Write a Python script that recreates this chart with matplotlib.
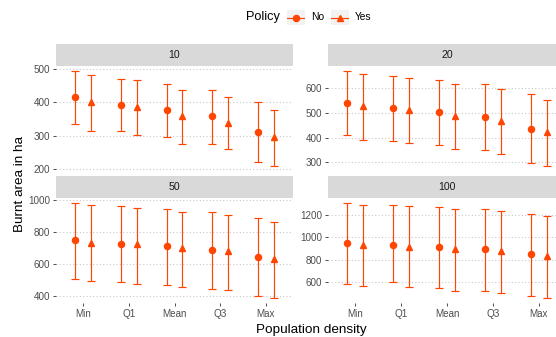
import numpy as np
import matplotlib.pyplot as plt
from matplotlib.lines import Line2D

plt.rcParams['font.family'] = ['Liberation Sans', 'DejaVu Sans']

# Summary of burnt area per population density statistic, with/without policy
categories = ['Min', 'Q1', 'Mean', 'Q3', 'Max']
densities = ['10', '20', '50', '100']

no_mean = {'10': [416, 392, 377, 358, 312],
           '20': [543, 520, 504, 483, 437],
           '50': [750, 723, 709, 688, 643],
           '100': [944, 926, 912, 891, 846]}
no_low = {'10': [335, 314, 296, 275, 221],
          '20': [411, 387, 369, 350, 297],
          '50': [506, 485, 466, 444, 396],
          '100': [582, 603, 545, 523, 476]}
no_high = {'10': [495, 470, 455, 436, 401],
           '20': [672, 649, 633, 618, 577],
           '50': [983, 962, 943, 926, 888],
           '100': [1304, 1280, 1265, 1245, 1206]}

yes_mean = {'10': [400, 385, 358, 340, 296],
            '20': [527, 513, 487, 468, 422],
            '50': [729, 723, 696, 677, 630],
            '100': [933, 915, 894, 873, 828]}
yes_low = {'10': [314, 303, 277, 260, 209],
           '20': [390, 379, 354, 332, 284],
           '50': [489, 474, 453, 432, 383],
           '100': [567, 555, 523, 500, 458]}
yes_high = {'10': [483, 466, 436, 417, 376],
            '20': [659, 641, 618, 597, 553],
            '50': [966, 952, 926, 907, 865],
            '100': [1286, 1274, 1245, 1233, 1188]}

y_ticks = {'10': [200, 300, 400, 500],
           '20': [300, 400, 500, 600],
           '50': [400, 600, 800, 1000],
           '100': [600, 800, 1000, 1200]}

COL = '#FF4500'
TXT = '#4d4d4d'
W, H = 556, 337

fig = plt.figure(figsize=(W / 100, H / 100), dpi=100)


def px_axes(x0, y0, x1, y1):
    # pixel box measured from the top-left corner
    return fig.add_axes([x0 / W, 1 - y1 / H, (x1 - x0) / W, (y1 - y0) / H])


cols = [(56, 293), (328, 566)]
rows = [((44, 66), (66, 171)), ((176, 198), (198, 303))]
dodge = 0.175
x = np.arange(len(categories))

for i, d in enumerate(densities):
    (sx0, sx1) = cols[i % 2]
    (strip, panel) = rows[i // 2]

    sax = px_axes(sx0, strip[0], sx1, strip[1])
    sax.set_facecolor('#d9d9d9')
    sax.set_xticks([])
    sax.set_yticks([])
    for s in sax.spines.values():
        s.set_visible(False)
    sax.text(0.5, 0.5, d, ha='center', va='center', fontsize=7.6, color='#1a1a1a',
             transform=sax.transAxes)

    ax = px_axes(sx0, panel[0], sx1, panel[1])
    for s in ax.spines.values():
        s.set_visible(False)

    for means, lows, highs, off, mk, ms in [
            (no_mean[d], no_low[d], no_high[d], -dodge, 'o', 4.4),
            (yes_mean[d], yes_low[d], yes_high[d], dodge, '^', 4.8)]:
        m = np.array(means)
        err = [m - np.array(lows), np.array(highs) - m]
        ax.errorbar(x + off, m, yerr=err, fmt='none', ecolor=COL, elinewidth=0.85,
                    capsize=3.2, capthick=0.85, zorder=3)
        ax.plot(x + off, m, mk, color=COL, markersize=ms, zorder=4)

    lo = min(min(no_low[d]), min(yes_low[d]))
    hi = max(max(no_high[d]), max(yes_high[d]))
    pad = (hi - lo) * 0.05
    ax.set_ylim(lo - pad, hi + pad)
    ax.set_xlim(-0.6, len(categories) - 0.4)

    ax.set_yticks(y_ticks[d])
    ax.yaxis.grid(True, linestyle=(0, (1, 2)), color='#c8c8c8', linewidth=0.8)
    ax.set_axisbelow(True)
    ax.tick_params(axis='y', length=2.5, width=0.7, color=TXT, labelcolor=TXT,
                   labelsize=7.1, pad=1.5)
    ax.set_xticks(x)
    if i // 2 == 1:
        ax.set_xticklabels(categories)
        ax.tick_params(axis='x', length=2.5, width=0.7, color=TXT, labelcolor=TXT,
                       labelsize=7.1, pad=1.5)
    else:
        ax.tick_params(axis='x', length=0, labelbottom=False)

fig.text(20 / W, 1 - 184 / H, 'Burnt area in ha', rotation=90, ha='center', va='center',
         fontsize=9.7, color='black')
fig.text(311 / W, 1 - 330 / H, 'Population density', ha='center', va='center',
         fontsize=9.7, color='black')

# legend
fig.text(246 / W, 1 - 17 / H, 'Policy', ha='left', va='center', fontsize=9.2, color='black')
for kx, label, mk, ms in [(287, 'No', 'o', 4.4), (331, 'Yes', '^', 4.8)]:
    kax = px_axes(kx, 10, kx + 18, 25)
    kax.set_xlim(0, 1)
    kax.set_ylim(0, 1)
    kax.axis('off')
    kax.add_patch(plt.Rectangle((0, 0), 1, 1, color='#f2f2f2', zorder=0))
    kax.add_line(Line2D([0, 1], [0.5, 0.5], color=COL, linewidth=0.85))
    kax.plot([0.5], [0.5], mk, color=COL, markersize=ms)
    fig.text((kx + 24) / W, 1 - 17 / H, label, ha='left', va='center', fontsize=7.4,
             color='black')

fig.savefig('out.png', dpi=100)
